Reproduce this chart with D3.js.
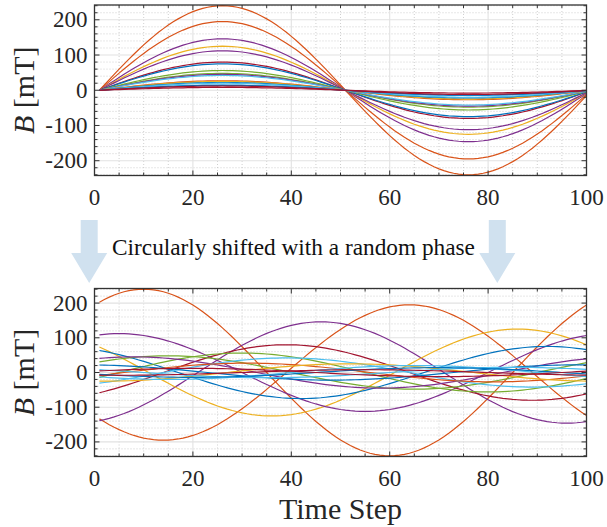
<!DOCTYPE html>
<html><head><meta charset="utf-8">
<script src="https://cdn.jsdelivr.net/npm/d3@7"></script>
<style>
body{margin:0;background:#fff}svg{display:block}
text{font-family:"Liberation Serif","Times New Roman","DejaVu Serif",serif;}
</style>
</head><body>
<svg id="chart" width="607" height="527"></svg>
<script>
// ---------------- data ----------------
const timeSteps = d3.range(1, 101);
// normalised field profile per time step (one period over 100 steps)
const unitWaveform = [
  0,.063,.125,.187,.249,.309,.368,.426,.482,.536,.588,.637,.685,.729,.771,.809,.844,.876,.905,.930,.951,.969,.982,.992,.998,1,
  .998,.992,.982,.969,.951,.930,.905,.876,.844,.809,.771,.729,.685,.637,.588,.536,.482,.426,.368,.309,.249,.187,.125,.063,0,
  -.063,-.125,-.187,-.249,-.309,-.368,-.426,-.482,-.536,-.588,-.637,-.685,-.729,-.771,-.809,-.844,-.876,-.905,-.930,-.951,-.969,-.982,-.992,-.998,-1,
  -.998,-.992,-.982,-.969,-.951,-.930,-.905,-.876,-.844,-.809,-.771,-.729,-.685,-.637,-.588,-.536,-.482,-.426,-.368,-.309,-.249,-.187,-.125,-.063
];
// peak field of each series [mT]
const amplitudes   = [240, 195, 146, 125, 112, 80, 75, 56, 48, 45, 42, 27, 25, 22, 20, 15, 14, 12, 8];
// colour category of each series
const seriesColors = ["orange","orange","purple","yellow","purple","darkred","blue","green","green","purple",
                      "lightblue","orange","yellow","blue","lightblue","lightblue","blue","darkred","darkred"];
// random circular shift (in time steps) applied to each series
const phaseShifts  = [84, 38, 20, 60, 79, 13, 66, 4, 89, 82, 13, 5, 26, 72, 39, 59, 44, 94, 29];

const xTicks = [0, 20, 40, 60, 80, 100];
const yTicks = [-200, -100, 0, 100, 200];
const xMinorTicks = d3.range(0, 101, 5);
const yMinorTicks = d3.range(-240, 241, 20);
const xLabel = "Time Step";
const noteText = "Circularly shifted with a random phase";

// ---------------- build series ----------------
const N = unitWaveform.length;
const original = amplitudes.map((a, i) => timeSteps.map((t, j) => ({t, v: a * unitWaveform[j]})));
const shifted = amplitudes.map((a, i) => timeSteps.map((t, j) =>
  ({t, v: a * unitWaveform[((j - phaseShifts[i]) % N + N) % N]})));

// ---------------- drawing ----------------
const palette = d3.scaleOrdinal()
  .domain(["blue","orange","yellow","purple","green","lightblue","darkred"])
  .range(["#0072BD","#D95319","#EDB120","#7E2F8E","#77AC30","#4DBEEE","#A2142F"]);

const svg = d3.select("#chart");
const TXT = "#262626";

const x = d3.scaleLinear().domain([0, 100]).range([94.5, 586.5]);

function panel(top, bottom, seriesData, id, showXLabel) {
  const y = d3.scaleLinear().domain([-242, 242]).range([bottom, top]);
  const g = svg.append("g");
  const [x0, x1] = x.range();

  g.append("clipPath").attr("id", id).append("rect")
    .attr("x", x0).attr("y", top).attr("width", x1 - x0).attr("height", bottom - top);

  // minor grid (dotted)
  g.selectAll(".mgx").data(xMinorTicks.filter(d => d % 20 !== 0)).enter().append("line")
    .attr("x1", d => x(d)).attr("x2", d => x(d)).attr("y1", top).attr("y2", bottom)
    .attr("stroke", "#c4c4c4").attr("stroke-width", 0.8).attr("stroke-dasharray", "1,2");
  g.selectAll(".mgy").data(yMinorTicks.filter(d => d % 100 !== 0)).enter().append("line")
    .attr("x1", x0).attr("x2", x1).attr("y1", d => y(d)).attr("y2", d => y(d))
    .attr("stroke", "#c4c4c4").attr("stroke-width", 0.8).attr("stroke-dasharray", "1,2");
  // major grid
  g.selectAll(".gx").data(xTicks).enter().append("line")
    .attr("x1", d => x(d)).attr("x2", d => x(d)).attr("y1", top).attr("y2", bottom)
    .attr("stroke", "#e2e2e2").attr("stroke-width", 1.1);
  g.selectAll(".gy").data(yTicks).enter().append("line")
    .attr("x1", x0).attr("x2", x1).attr("y1", d => y(d)).attr("y2", d => y(d))
    .attr("stroke", "#e2e2e2").attr("stroke-width", 1.1);

  // lines
  const line = d3.line().x(d => x(d.t)).y(d => y(d.v));
  g.append("g").attr("clip-path", `url(#${id})`)
    .selectAll("path").data(seriesData).enter().append("path")
    .attr("d", line).attr("fill", "none")
    .attr("stroke", (d, i) => palette(seriesColors[i]))
    .attr("stroke-width", 1.2);

  // ticks (inward, all four sides)
  const tk = g.append("g").attr("stroke", "#333").attr("stroke-width", 1);
  xMinorTicks.forEach(d => {
    const L = xTicks.includes(d) ? 5 : 3;
    tk.append("line").attr("x1", x(d)).attr("x2", x(d)).attr("y1", bottom).attr("y2", bottom - L);
    tk.append("line").attr("x1", x(d)).attr("x2", x(d)).attr("y1", top).attr("y2", top + L);
  });
  yMinorTicks.forEach(d => {
    const L = yTicks.includes(d) ? 5 : 3;
    tk.append("line").attr("x1", x0).attr("x2", x0 + L).attr("y1", y(d)).attr("y2", y(d));
    tk.append("line").attr("x1", x1).attr("x2", x1 - L).attr("y1", y(d)).attr("y2", y(d));
  });

  // box
  g.append("rect").attr("x", x0).attr("y", top).attr("width", x1 - x0).attr("height", bottom - top)
    .attr("fill", "none").attr("stroke", "#333").attr("stroke-width", 1.3);

  // tick labels
  g.selectAll(".xl").data(xTicks).enter().append("text")
    .attr("x", d => x(d)).attr("y", bottom + 29.5)
    .attr("text-anchor", "middle").style("font-size", "23px")
    .attr("fill", TXT).text(d => d);
  g.selectAll(".yl").data(yTicks).enter().append("text")
    .attr("x", x0 - 7).attr("y", d => y(d) + 7.5)
    .attr("text-anchor", "end").style("font-size", "23px")
    .attr("fill", TXT).text(d => d);

  // y label
  const yl = g.append("text")
    .attr("transform", `translate(34,${(top + bottom) / 2}) rotate(-90)`)
    .attr("text-anchor", "middle").style("font-size", "30px")
    .attr("fill", TXT);
  yl.append("tspan").style("font-style", "italic").text("B");
  yl.append("tspan").text(" [mT]");

  if (showXLabel) {
    g.append("text").attr("x", (x0 + x1) / 2).attr("y", bottom + 62)
      .attr("text-anchor", "middle").style("font-size", "30px")
      .attr("fill", TXT).text(xLabel);
  }
}

panel(5, 175.5, original, "clipTop", false);
panel(288.5, 456.5, shifted, "clipBot", true);

// arrows & note
function arrow(cx) {
  const sw = 8.5, hw = 18, yTop = 220, yHead = 253, yTip = 283;
  svg.append("path")
    .attr("d", `M${cx - sw},${yTop}L${cx + sw},${yTop}L${cx + sw},${yHead}L${cx + hw},${yHead}L${cx},${yTip}L${cx - hw},${yHead}L${cx - sw},${yHead}Z`)
    .attr("fill", "#d0e1ef");
}
arrow(89.2);
arrow(497.3);
svg.append("text").attr("x", 293.5).attr("y", 255)
  .attr("text-anchor", "middle").style("font-size", "23.3px")
  .attr("fill", "#111").text(noteText);
</script>
</body></html>
